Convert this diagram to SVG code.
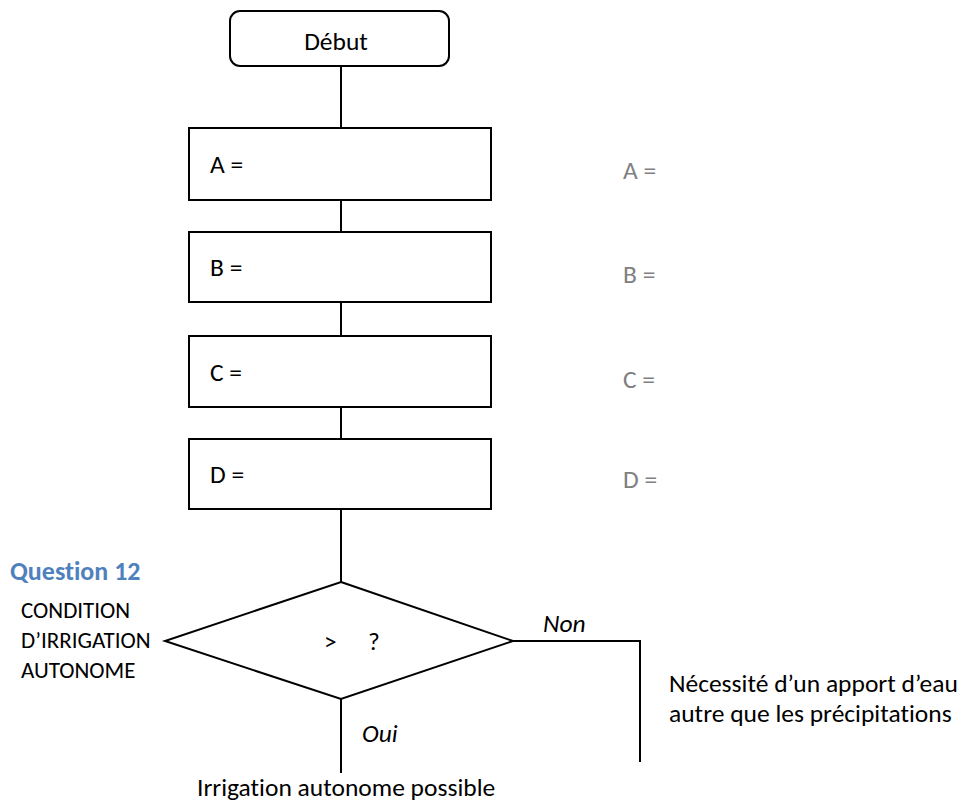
<svg xmlns="http://www.w3.org/2000/svg" width="975" height="809" viewBox="0 0 975 809">
<style>
.shape{fill:#ffffff;stroke:#000000;stroke-width:2}
.conn{fill:none;stroke:#000000;stroke-width:2}
text{font-family:Carlito,"Open Sans","Liberation Sans",sans-serif;font-size:25.5px;fill:#000000;font-variant-ligatures:none}
.gray{fill:#808080}
.it{font-style:italic}
.q{fill:#4F81BD;font-weight:bold;font-size:26px}
.sm{font-size:23px}
</style>
<rect width="975" height="809" fill="#ffffff"/>
<g id="connectors">
<line class="conn" x1="341" y1="66" x2="341" y2="128"/>
<line class="conn" x1="341" y1="200" x2="341" y2="232"/>
<line class="conn" x1="341" y1="302" x2="341" y2="336"/>
<line class="conn" x1="341" y1="407" x2="341" y2="439"/>
<line class="conn" x1="341" y1="509" x2="341" y2="582"/>
<polyline class="conn" points="513,641 640,641 640,762"/>
<line class="conn" x1="341" y1="699" x2="341" y2="773"/>
<text class="it" x="543" y="632">Non</text>
<text class="it" x="362" y="742">Oui</text>
</g>
<g id="debut">
<rect class="shape" x="230" y="11" width="219" height="55" rx="10"/>
<text x="336" y="50" text-anchor="middle">Début</text>
</g>
<g id="boxA">
<rect class="shape" x="189" y="128" width="302" height="72"/>
<text x="210" y="173">A =</text>
</g>
<g id="boxB">
<rect class="shape" x="189" y="232" width="302" height="70"/>
<text x="210" y="276">B =</text>
</g>
<g id="boxC">
<rect class="shape" x="189" y="336" width="302" height="71"/>
<text x="210" y="381">C =</text>
</g>
<g id="boxD">
<rect class="shape" x="189" y="439" width="302" height="70"/>
<text x="210" y="483">D =</text>
</g>
<g id="decision">
<polygon class="shape" points="341,582 513,641 341,699 165,641"/>
<text x="324" y="650">&gt;</text>
<text x="368" y="650">?</text>
</g>
<g id="labels">
<text class="gray" x="623" y="179">A =</text>
<text class="gray" x="623" y="283">B =</text>
<text class="gray" x="623" y="388">C =</text>
<text class="gray" x="623" y="488">D =</text>
<text class="q" x="10" y="580">Question 12</text>
<text class="sm" x="21" y="618">CONDITION</text>
<text class="sm" x="21" y="648">D’IRRIGATION</text>
<text class="sm" x="21" y="678">AUTONOME</text>
<text x="197" y="796">Irrigation autonome possible</text>
<text x="669" y="692">Nécessité d’un apport d’eau</text>
<text x="669" y="722">autre que les précipitations</text>
</g>
</svg>
